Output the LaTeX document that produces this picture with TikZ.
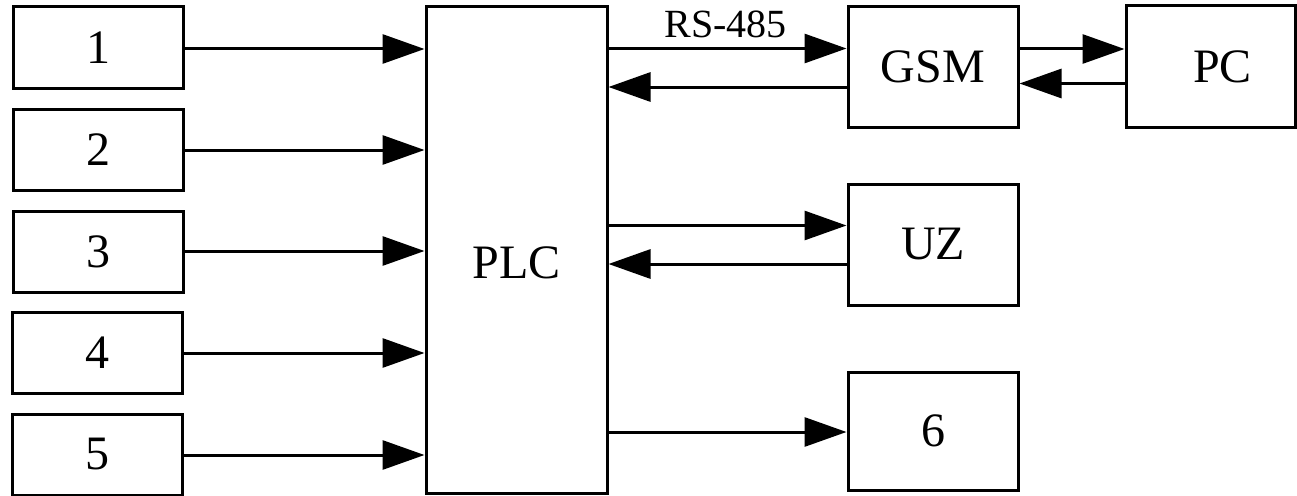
\documentclass[tikz,border=0pt]{standalone}
\usepackage{fontspec}
\setmainfont{Liberation Serif}
\usetikzlibrary{arrows.meta}
\begin{document}
\begin{tikzpicture}[x=1pt,y=-1pt,
  blk/.style={draw,line width=3pt,inner sep=0pt,font=\fontsize{48}{52}\selectfont},
  arr/.style={line width=3pt,-{Triangle[length=42pt,width=29pt]}}]
\useasboundingbox (0,0) rectangle (1297,495);
% left boxes
\node[blk,minimum width=170pt,minimum height=81pt] (b1) at (98,47.5) {1};
\node[blk,minimum width=170pt,minimum height=81pt] (b2) at (98,149.5) {2};
\node[blk,minimum width=170pt,minimum height=81pt] (b3) at (98,251.5) {3};
\node[blk,minimum width=170pt,minimum height=81pt] (b4) at (97.5,353) {4};
\node[blk,minimum width=170pt,minimum height=81pt] (b5) at (97.5,454.5) {5};
% PLC
\node[blk,minimum width=181pt,minimum height=486pt] (plc) at (516.5,250) {\raisebox{-28.5pt}[0pt][0pt]{PLC}};
% right boxes
\node[blk,minimum width=170pt,minimum height=120pt] (gsm) at (933,67) {GSM};
\node[blk,minimum width=169pt,minimum height=121pt,text width=169pt,align=center] (pc) at (1210.5,66.5) {\hspace*{24pt}PC};
\node[blk,minimum width=170pt,minimum height=121pt] (uz) at (933,244.5) {UZ};
\node[blk,minimum width=170pt,minimum height=118pt] (six) at (933,431) {6};
% inputs
\draw[arr] (b1.east |- 0,49) -- (plc.west |- 0,49);
\draw[arr] (b2.east |- 0,150) -- (plc.west |- 0,150);
\draw[arr] (b3.east |- 0,251) -- (plc.west |- 0,251);
\draw[arr] (b4.east |- 0,353) -- (plc.west |- 0,353);
\draw[arr] (b5.east |- 0,455) -- (plc.west |- 0,455);
% GSM
\draw[arr] (plc.east |- 0,48.5) -- node[above=9pt,font=\fontsize{40}{42}\selectfont,inner sep=0pt,xshift=-2pt] {RS-485} (gsm.west |- 0,48.5);
\draw[arr] (gsm.west |- 0,87) -- (plc.east |- 0,87);
% PC
\draw[arr] (gsm.east |- 0,49) -- (pc.west |- 0,49);
\draw[arr] (pc.west |- 0,83.5) -- (gsm.east |- 0,83.5);
% UZ
\draw[arr] (plc.east |- 0,225.5) -- (uz.west |- 0,225.5);
\draw[arr] (uz.west |- 0,264) -- (plc.east |- 0,264);
% 6
\draw[arr] (plc.east |- 0,432) -- (six.west |- 0,432);
\end{tikzpicture}
\end{document}
